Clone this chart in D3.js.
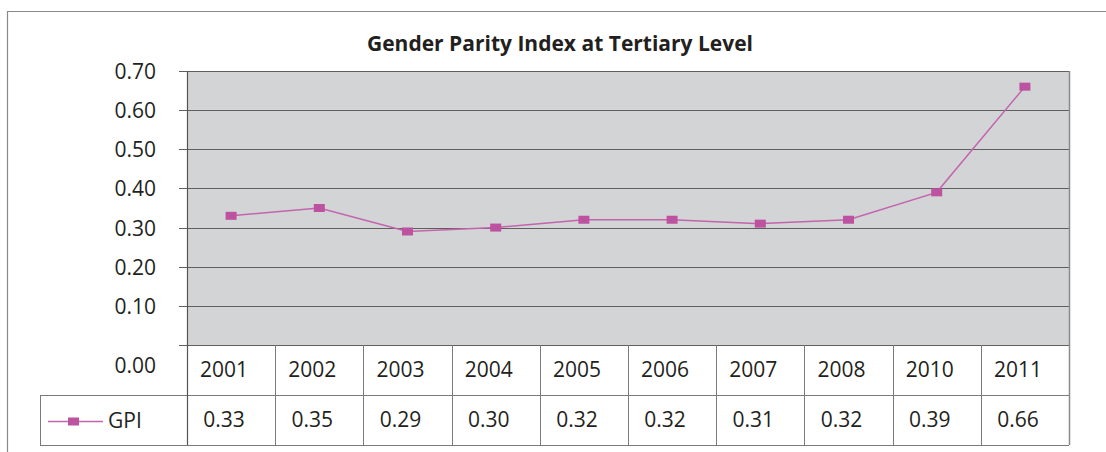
<!DOCTYPE html>
<html>
<head>
<meta charset="utf-8">
<script src="https://cdn.jsdelivr.net/npm/d3@7"></script>
<style>
  body { margin: 0; background: #fff; }
  text { font-family: "Open Sans", "Noto Sans", sans-serif; fill: #231f20; }
</style>
</head>
<body>
<div id="chart"></div>
<script>
var years = ['2001', '2002', '2003', '2004', '2005', '2006', '2007', '2008', '2010', '2011'];
var gpi = [0.33, 0.35, 0.29, 0.30, 0.32, 0.32, 0.31, 0.32, 0.39, 0.66];
var yTicks = [0, 0.1, 0.2, 0.3, 0.4, 0.5, 0.6, 0.7];
var seriesName = 'GPI';
var title = 'Gender Parity Index at Tertiary Level';

var settings = {
  width: 1106,
  height: 452,
  left: 187,
  right: 1069,
  plotTop: 71,
  plotBottom: 345,
  rowH: 50,
  fontSize: 21,
  lineColor: '#c364ae',
  markColor: '#bd52a0'
};
var s = settings;
var textShift = -7;

var svg = d3.select('#chart').append('svg')
  .attr('width', s.width)
  .attr('height', s.height);

var x = d3.scaleBand().domain(years).range([s.left, s.right]).paddingInner(0).paddingOuter(0);
var y = d3.scaleLinear().domain([0, 0.7]).range([s.plotBottom, s.plotTop]);

// outer frame
svg.append('path')
  .attr('d', 'M7.5,' + s.height + 'V11.5H' + s.width)
  .attr('fill', 'none').attr('stroke', '#8a8a8a').attr('stroke-width', 1.2);

// title
svg.append('text')
  .attr('x', 560).attr('y', 51)
  .attr('text-anchor', 'middle')
  .attr('font-weight', 'bold')
  .attr('font-size', s.fontSize)
  .text(title);

// plot area
svg.append('rect')
  .attr('x', s.left).attr('y', s.plotTop)
  .attr('width', s.right - s.left).attr('height', s.plotBottom - s.plotTop)
  .attr('fill', '#d3d4d6');

// gridlines + ticks
svg.append('g').selectAll('line')
  .data(yTicks)
  .enter().append('line')
  .attr('x1', s.left - 8).attr('x2', s.right)
  .attr('y1', function(d) { return Math.round(y(d)) + 0.5; })
  .attr('y2', function(d) { return Math.round(y(d)) + 0.5; })
  .attr('stroke', '#5f5f5f').attr('stroke-width', 1.2);

var yAxis = d3.axisLeft(y).tickValues(yTicks).tickFormat(d3.format('.2f')).tickSize(0).tickPadding(0);
var ya = svg.append('g').attr('transform', 'translate(156,0)').call(yAxis);
ya.select('.domain').remove();
ya.selectAll('text')
  .attr('font-size', s.fontSize)
  .attr('font-family', '"Open Sans", sans-serif')
  .attr('fill', '#231f20')
  .attr('dy', function(d) { return d === 0 ? '27px' : '7.5px'; });

// right border of plot
svg.append('line')
  .attr('x1', s.right + 0.5).attr('x2', s.right + 0.5)
  .attr('y1', s.plotTop).attr('y2', s.plotBottom + 2 * s.rowH)
  .attr('stroke', '#8a8a8a').attr('stroke-width', 1.5);

// data table
var tbl = svg.append('g');
tbl.selectAll('line.col')
  .data(years.slice(1))
  .enter().append('line')
  .attr('class', 'col')
  .attr('x1', function(d) { return Math.round(x(d)) + 0.5; })
  .attr('x2', function(d) { return Math.round(x(d)) + 0.5; })
  .attr('y1', s.plotBottom).attr('y2', s.plotBottom + 2 * s.rowH)
  .attr('stroke', '#7a7a7a').attr('stroke-width', 1);

tbl.append('line')
  .attr('x1', 40).attr('x2', s.right)
  .attr('y1', s.plotBottom + s.rowH + 0.5).attr('y2', s.plotBottom + s.rowH + 0.5)
  .attr('stroke', '#7a7a7a');
tbl.append('line')
  .attr('x1', 40).attr('x2', s.right)
  .attr('y1', s.plotBottom + 2 * s.rowH + 0.5).attr('y2', s.plotBottom + 2 * s.rowH + 0.5)
  .attr('stroke', '#7a7a7a');
tbl.append('line')
  .attr('x1', 40.5).attr('x2', 40.5)
  .attr('y1', s.plotBottom + s.rowH).attr('y2', s.plotBottom + 2 * s.rowH)
  .attr('stroke', '#7a7a7a');

tbl.selectAll('text.yr')
  .data(years)
  .enter().append('text')
  .attr('class', 'yr')
  .attr('x', function(d) { return x(d) + x.bandwidth() / 2 + textShift; })
  .attr('y', 377)
  .attr('text-anchor', 'middle')
  .attr('font-size', s.fontSize)
  .text(function(d) { return d; });

tbl.selectAll('text.val')
  .data(gpi)
  .enter().append('text')
  .attr('class', 'val')
  .attr('x', function(d, i) { return x(years[i]) + x.bandwidth() / 2 + textShift; })
  .attr('y', 427)
  .attr('text-anchor', 'middle')
  .attr('font-size', s.fontSize)
  .text(function(d) { return d3.format('.2f')(d); });

// left axis line
svg.append('line')
  .attr('x1', s.left + 0.5).attr('x2', s.left + 0.5)
  .attr('y1', s.plotTop).attr('y2', s.plotBottom + 2 * s.rowH)
  .attr('stroke', '#555').attr('stroke-width', 1.2);

// series
var line = d3.line()
  .x(function(d, i) { return x(years[i]) + x.bandwidth() / 2; })
  .y(function(d) { return y(d); });

svg.append('path')
  .datum(gpi)
  .attr('d', line)
  .attr('fill', 'none')
  .attr('stroke', s.lineColor)
  .attr('stroke-width', 1.5);

svg.append('g').selectAll('rect')
  .data(gpi)
  .enter().append('rect')
  .attr('x', function(d, i) { return x(years[i]) + x.bandwidth() / 2 - 5.5; })
  .attr('y', function(d) { return y(d) - 4; })
  .attr('width', 11).attr('height', 8)
  .attr('fill', s.markColor);

// legend
var ly = 421.5;
svg.append('line')
  .attr('x1', 48).attr('x2', 103)
  .attr('y1', ly).attr('y2', ly)
  .attr('stroke', s.lineColor).attr('stroke-width', 1.5);
svg.append('rect')
  .attr('x', 68).attr('y', ly - 4)
  .attr('width', 11).attr('height', 8)
  .attr('fill', s.markColor);
svg.append('text')
  .attr('x', 108).attr('y', 428)
  .attr('font-size', s.fontSize)
  .text(seriesName);
</script>
</body>
</html>
